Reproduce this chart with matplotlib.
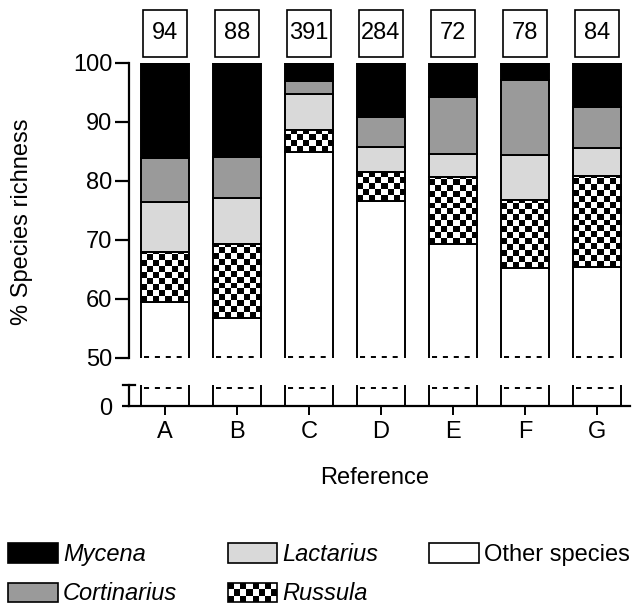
import numpy as np
import matplotlib
matplotlib.use("Agg")
import matplotlib.pyplot as plt
from matplotlib.patches import Rectangle, Patch
from matplotlib.legend_handler import HandlerBase

plt.rcParams['font.family'] = ['Liberation Sans', 'DejaVu Sans']
FS = 17
plt.rcParams['font.size'] = FS

# data (% species richness per reference, bottom -> top)
refs = ['A', 'B', 'C', 'D', 'E', 'F', 'G']
n_species = [94, 88, 391, 284, 72, 78, 84]
other = [59.5, 56.7, 84.9, 76.6, 69.3, 65.2, 65.4]
russula = [8.5, 12.7, 3.7, 5.0, 11.3, 11.6, 15.5]
lactarius = [8.5, 7.7, 6.1, 4.2, 3.9, 7.6, 4.7]
cortinarius = [7.4, 6.9, 2.3, 5.1, 9.7, 12.7, 7.0]
mycena = [16.1, 16.0, 3.0, 9.1, 5.8, 2.9, 7.4]

C_CORT = '#9a9a9a'
C_LACT = '#d9d9d9'
LW = 1.4
W = 0.667
x = np.arange(len(refs))

fig = plt.figure(figsize=(6.32, 6.08), dpi=100)
ax = fig.add_axes([0.2041, 0.4112, 0.7927, 0.4852])
ax2 = fig.add_axes([0.2041, 0.3322, 0.7927, 0.0345])

# ---- upper panel (50-100)
other = np.array(other)
russula = np.array(russula)
lactarius = np.array(lactarius)
cortinarius = np.array(cortinarius)
mycena = np.array(mycena)

ax.bar(x, other, W, color='white', edgecolor='black', lw=LW, zorder=2)
b_rus = other
rus_bars = ax.bar(x, russula, W, bottom=b_rus, color='white', edgecolor='none', zorder=2)
b_lac = b_rus + russula
ax.bar(x, lactarius, W, bottom=b_lac, color=C_LACT, edgecolor='black', lw=LW, zorder=3)
b_cor = b_lac + lactarius
ax.bar(x, cortinarius, W, bottom=b_cor, color=C_CORT, edgecolor='black', lw=LW, zorder=3)
b_myc = b_cor + cortinarius
ax.bar(x, mycena, W, bottom=b_myc, color='black', edgecolor='black', lw=LW, zorder=3)

# checkerboard fill for Russula
for xi, b, h, rect in zip(x, b_rus, russula, rus_bars.patches):
    ny = int(np.ceil(h)) + 1
    board = np.indices((ny, 8)).sum(axis=0) % 2
    im = ax.imshow(board, cmap='gray', interpolation='nearest', aspect='auto',
                   extent=(xi - W / 2, xi + W / 2, b, b + ny), origin='lower', zorder=2.5)
    im.set_clip_path(rect)
ax.bar(x, russula, W, bottom=b_rus, color='none', edgecolor='black', lw=LW, zorder=3)

ax.hlines([50.25] * len(x), x - W / 2 + 0.04, x + W / 2 - 0.04, colors='black',
          lw=LW, linestyles=(0, (2.6, 3.0)), zorder=4, clip_on=False)

ax.set_xlim(-0.5, 6.46)
ax.set_ylim(50, 100)
ax.set_yticks([50, 60, 70, 80, 90, 100])
ax.set_xticks([])
for s in ['top', 'right', 'bottom']:
    ax.spines[s].set_visible(False)
ax.spines['left'].set_linewidth(1.6)
ax.tick_params(axis='y', length=10, width=1.6, pad=2)

# sample size boxes
for xi, n in zip(x, n_species):
    ax.add_patch(Rectangle((xi - 0.31, 1.02), 0.62, 0.16, transform=ax.get_xaxis_transform(),
                           facecolor='white', edgecolor='black', lw=1.2, clip_on=False))
    ax.text(xi, 1.10, str(n), transform=ax.get_xaxis_transform(), ha='center', va='center',
            fontsize=FS)

# ---- lower panel (0 - break)
ax2.bar(x, [2] * len(x), W, color='white', edgecolor='black', lw=LW, zorder=2)
ax2.hlines([0.85] * len(x), x - W / 2 + 0.04, x + W / 2 - 0.04, colors='black',
           lw=LW, linestyles=(0, (2.6, 3.0)), zorder=4)
ax2.set_xlim(-0.5, 6.46)
ax2.set_ylim(0, 1)
ax2.set_yticks([0])
ax2.set_xticks(x)
ax2.set_xticklabels(refs)
for s in ['top', 'right']:
    ax2.spines[s].set_visible(False)
ax2.spines['left'].set_linewidth(1.6)
ax2.spines['bottom'].set_linewidth(1.6)
ax2.tick_params(axis='y', length=5, width=1.6, pad=7)
ax2.tick_params(axis='x', length=6.5, width=1.4, pad=4)
ax2.plot([-0.012, 0.012], [1, 1], transform=ax2.transAxes, color='black', lw=1.6, clip_on=False)

fig.text(22 / 632, 1 - 222 / 608, '% Species richness', rotation=90, ha='center', va='center',
         fontsize=FS)
fig.text(375 / 632, 1 - 478 / 608, 'Reference', ha='center', va='center', fontsize=FS)


# ---- legend
class CheckerHandler(HandlerBase):
    def create_artists(self, legend, orig_handle, xdescent, ydescent, width, height, fontsize, trans):
        x0, y0 = -xdescent, -ydescent
        arts = [Rectangle((x0, y0), width, height, facecolor='white', edgecolor='none', transform=trans)]
        nx, ny = 8, 3
        dx, dy = width / nx, height / ny
        for i in range(nx):
            for j in range(ny):
                if (i + j) % 2 == 0:
                    arts.append(Rectangle((x0 + i * dx, y0 + j * dy), dx, dy, facecolor='black',
                                          edgecolor='none', transform=trans))
        arts.append(Rectangle((x0, y0), width, height, facecolor='none', edgecolor='black',
                              lw=1.2, transform=trans))
        return arts


h_rus = Patch(facecolor='white', edgecolor='black')
handles = [Patch(facecolor='black', edgecolor='black', lw=1.2),
           Patch(facecolor=C_CORT, edgecolor='black', lw=1.2),
           Patch(facecolor=C_LACT, edgecolor='black', lw=1.2),
           h_rus,
           Patch(facecolor='white', edgecolor='black', lw=1.2)]
labels = ['Mycena', 'Cortinarius', 'Lactarius', 'Russula', 'Other species']
leg = fig.legend(handles, labels, ncol=3, loc='upper left', bbox_to_anchor=(0.0127, 0.107),
                 frameon=False, fontsize=FS, handlelength=2.1, handleheight=0.89,
                 handletextpad=0.22, columnspacing=2.15, labelspacing=0.7, borderpad=0,
                 borderaxespad=0, handler_map={h_rus: CheckerHandler()})
for t in leg.get_texts()[:4]:
    t.set_fontstyle('italic')

fig.savefig('out.png', dpi=100)
